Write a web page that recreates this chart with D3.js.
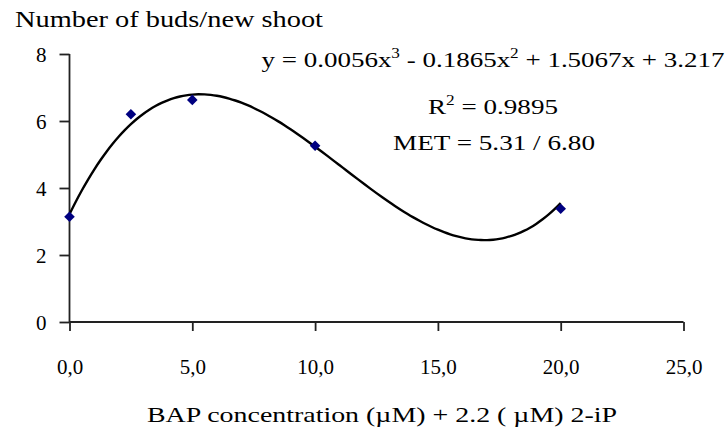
<!DOCTYPE html>
<html>
<head>
<meta charset="utf-8">
<script src="https://cdn.jsdelivr.net/npm/d3@7"></script>
<style>
  html, body { margin: 0; padding: 0; background: #fff; }
  svg { display: block; }
  text { font-family: "Liberation Serif", "Times New Roman", serif; fill: #000; }
</style>
</head>
<body>
<svg id="chart" width="728" height="434"></svg>
<script>
// ---- data ----
const bapConc = [0, 2.5, 5, 10, 20];
const budsPerShoot = [3.14, 6.2, 6.63, 5.26, 3.38];
const xTicks = [0, 5, 10, 15, 20, 25];
const xTickLabels = ["0,0", "5,0", "10,0", "15,0", "20,0", "25,0"];
const yTicks = [0, 2, 4, 6, 8];
const trendCoefs = [3.217, 1.5067, -0.1865, 0.0056]; // c0 + c1 x + c2 x^2 + c3 x^3
const titleText = "Number of buds/new shoot";
const xLabelText = "BAP concentration (\u00B5M) + 2.2 ( \u00B5M) 2-iP";

// ---- layout ----
const svg = d3.select("#chart");
const x = d3.scaleLinear().domain([0, 25]).range([69.5, 683.5]);
const y = d3.scaleLinear().domain([0, 8]).range([322, 54]);

// axes
const xAxis = d3.axisBottom(x).tickValues(xTicks).tickSize(9).tickFormat((d, i) => xTickLabels[i]);
const gx = svg.append("g").attr("transform", `translate(0,${y(0)})`).call(xAxis);
gx.select(".domain").attr("d", `M${x(0)},0H${x(25)}`).attr("stroke", "#222").attr("stroke-width", 1.8);
gx.selectAll(".tick line").attr("stroke", "#222").attr("stroke-width", 1.8);
gx.selectAll(".tick text").attr("font-size", 21).attr("font-family", "Liberation Serif").attr("y", 0).attr("dy", 0)
  .attr("transform", "translate(0,52)");

const yAxis = d3.axisLeft(y).tickValues(yTicks).tickSize(10).tickFormat(d3.format("d"));
const gy = svg.append("g").attr("transform", `translate(${x(0)},0)`).call(yAxis);
gy.select(".domain").attr("d", `M0,${y(8)}V${y(0)}`).attr("stroke", "#222").attr("stroke-width", 1.8);
gy.selectAll(".tick line").attr("stroke", "#222").attr("stroke-width", 1.8);
gy.selectAll(".tick text").attr("font-size", 21).attr("font-family", "Liberation Serif").attr("x", -23).attr("dy", "0.35em");

// trendline
const poly = t => trendCoefs.reduce((s, c, k) => s + c * Math.pow(t, k), 0);
const trendX = d3.range(0, 20.001, 0.25);
svg.append("path")
  .datum(trendX)
  .attr("fill", "none")
  .attr("stroke", "#000")
  .attr("stroke-width", 2.4)
  .attr("d", d3.line().x(d => x(d)).y(d => y(poly(d))).curve(d3.curveMonotoneX));

// markers (square rotated 45deg)
svg.append("g").selectAll("path")
  .data(bapConc.map((c, i) => [c, budsPerShoot[i]]))
  .join("path")
  .attr("d", d3.symbol().type(d3.symbolSquare).size(56))
  .attr("transform", d => `translate(${x(d[0])},${y(d[1])}) rotate(45)`)
  .attr("fill", "#000080");

// title
svg.append("text").attr("x", 15).attr("y", 26.5).attr("font-size", 24)
  .attr("textLength", 308).attr("lengthAdjust", "spacingAndGlyphs").text(titleText);

// x label
svg.append("text").attr("x", 382).attr("y", 421.5).attr("text-anchor", "middle").attr("font-size", 22)
  .attr("textLength", 470).attr("lengthAdjust", "spacingAndGlyphs").text(xLabelText);

// equation annotations
const eq = svg.append("text").attr("x", 493).attr("y", 66.5).attr("text-anchor", "middle").attr("font-size", 22)
  .attr("textLength", 463).attr("lengthAdjust", "spacingAndGlyphs");
eq.append("tspan").text("y = 0.0056x");
eq.append("tspan").attr("font-size", 14).attr("dy", -9).text("3");
eq.append("tspan").attr("dy", 9).text(" - 0.1865x");
eq.append("tspan").attr("font-size", 14).attr("dy", -9).text("2");
eq.append("tspan").attr("dy", 9).text(" + 1.5067x + 3.217");

const r2 = svg.append("text").attr("x", 493).attr("y", 113.5).attr("text-anchor", "middle").attr("font-size", 22)
  .attr("textLength", 130).attr("lengthAdjust", "spacingAndGlyphs");
r2.append("tspan").text("R");
r2.append("tspan").attr("font-size", 14).attr("dy", -9).text("2");
r2.append("tspan").attr("dy", 9).text(" = 0.9895");

svg.append("text").attr("x", 494).attr("y", 150).attr("text-anchor", "middle").attr("font-size", 22)
  .attr("textLength", 202).attr("lengthAdjust", "spacingAndGlyphs").text("MET = 5.31 / 6.80");
</script>
</body>
</html>
